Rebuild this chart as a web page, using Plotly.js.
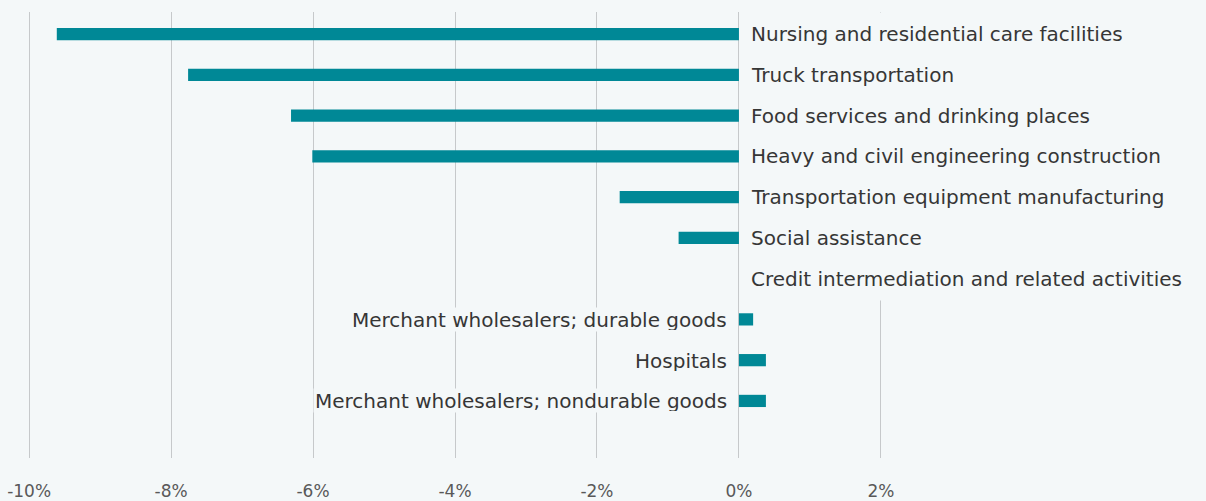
<!DOCTYPE html>
<html><head><meta charset="utf-8">
<script src="https://cdn.plot.ly/plotly-3.0.1.min.js"></script>
<style>html,body{margin:0;padding:0;background:#f4f8f9;}#chart{width:1206px;height:501px;}</style>
</head><body><div id="chart"></div>
<script>
const categories = [
  "Nursing and residential care facilities",
  "Truck transportation",
  "Food services and drinking places",
  "Heavy and civil engineering construction",
  "Transportation equipment manufacturing",
  "Social assistance",
  "Credit intermediation and related activities",
  "Merchant wholesalers; durable goods",
  "Hospitals",
  "Merchant wholesalers; nondurable goods"
];
const values = [-9.61, -7.76, -6.31, -6.01, -1.68, -0.85, 0.0, 0.20, 0.38, 0.38];
const tickVals = [-10, -8, -6, -4, -2, 0, 2];
const tickText = ["-10%", "-8%", "-6%", "-4%", "-2%", "0%", "2%"];

const rows = categories.map((c, i) => i);
const BG = "#f4f8f9";
const FONT = "'DejaVu Sans', sans-serif";

const annotations = categories.map((c, i) => {
  const neg = values[i] <= 0;
  return {
    x: 0, y: i, xref: "x", yref: "y",
    text: c, showarrow: false,
    xanchor: neg ? "left" : "right",
    yanchor: "middle",
    xshift: neg ? 10 : -10,
    bgcolor: BG,
    height: neg ? 40 : 21,
    font: {family: FONT, size: 20, color: "#363636"}
  };
});

const data = [{
  type: "bar", orientation: "h",
  x: values, y: rows,
  width: 0.3,
  marker: {color: "#008896"},
  hoverinfo: "skip"
}];

const layout = {
  width: 1206, height: 501,
  margin: {l: 0, r: 0, t: 12, b: 43},
  paper_bgcolor: BG, plot_bgcolor: BG,
  showlegend: false,
  xaxis: {
    range: [-10.41, 6.58],
    tickvals: tickVals, ticktext: tickText,
    showgrid: true, gridcolor: "#c6c9cb", gridwidth: 1,
    zeroline: true, zerolinecolor: "#c6c9cb", zerolinewidth: 1,
    showline: false, ticks: "",
    ticklabelstandoff: 21,
    tickfont: {family: FONT, size: 17, color: "#595959"},
    fixedrange: true
  },
  yaxis: {
    range: [10.40, -0.54],
    showgrid: false, zeroline: false, showticklabels: false, ticks: "",
    fixedrange: true
  },
  annotations: annotations
};

Plotly.newPlot("chart", data, layout, {displayModeBar: false, staticPlot: true});
</script></body></html>
